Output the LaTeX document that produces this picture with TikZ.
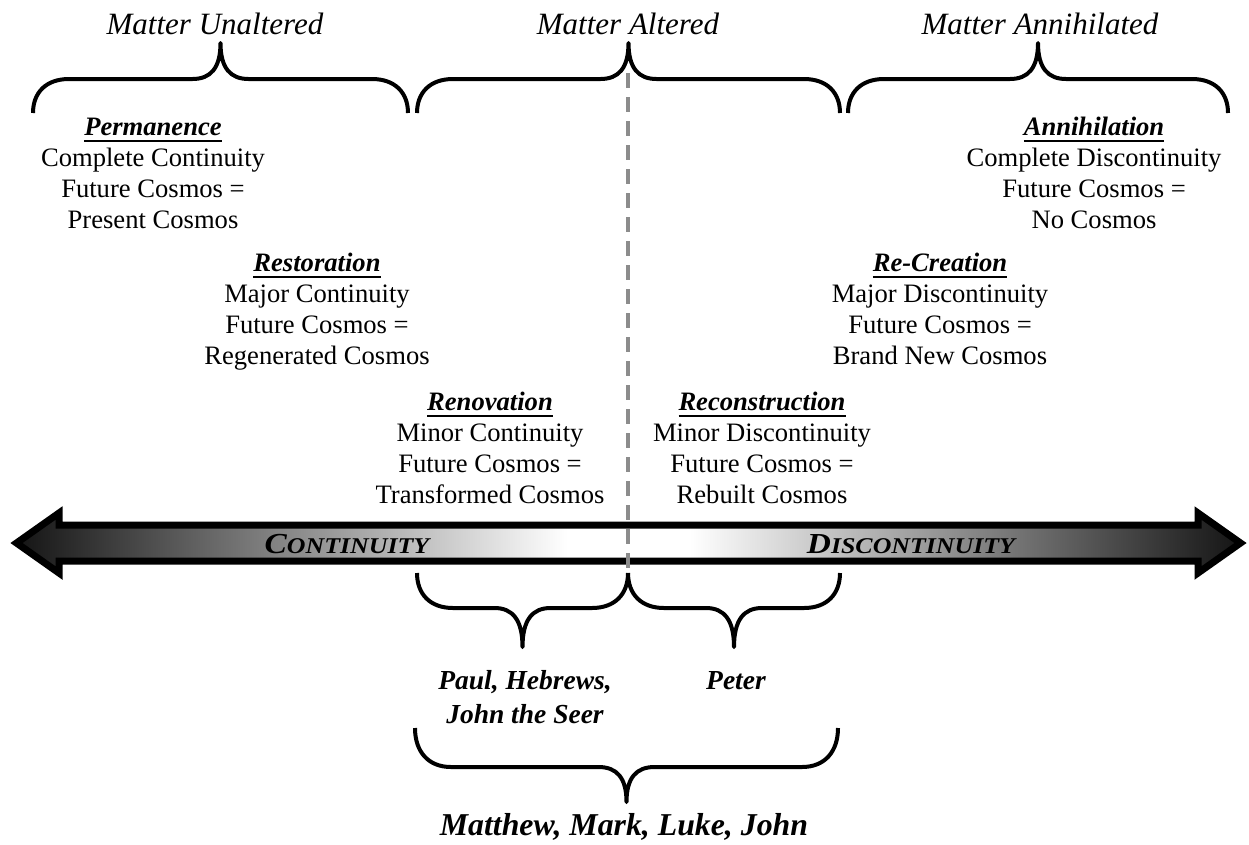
\documentclass[tikz,border=0pt]{standalone}
\usepackage{fontspec}
\setmainfont{Liberation Serif}
\usepackage{graphicx}

% heading word: bold italic with a 2pt rule under it
\newcommand\headword[1]{\setbox0=\hbox{\bfseries\itshape #1}\leavevmode\rlap{\vrule height -5pt depth 7pt width \wd0}\box0}
% imitation small capitals for the bar labels, slightly widened
\newcommand\fakesc[2]{\scalebox{1.15}[1]{{\fontsize{29}{29}\selectfont #1}{\fontsize{22.5}{22.5}\selectfont #2}}}

% curly brace: x1, x2, y of the ends, y of the long strokes, y of the cusp
\newcommand\curlybrace[5]{%
  \pgfmathsetmacro\bmid{(#1+#2)/2}%
  \pgfmathsetmacro\dA{#4-#3}%
  \pgfmathsetmacro\dB{#5-#4}%
  \draw[bracestroke] ({#1},{#3}) .. controls ({#1},{#3+0.6*(\dA)}) and ({#1+13},{#4}) .. ({#1+36},{#4})
     -- ({\bmid-28},{#4}) .. controls ({\bmid-10},{#4}) and ({\bmid},{#4+0.3*(\dB)}) .. ({\bmid},{#5})
     .. controls ({\bmid},{#4+0.3*(\dB)}) and ({\bmid+10},{#4}) .. ({\bmid+28},{#4})
     -- ({#2-36},{#4}) .. controls ({#2-13},{#4}) and ({#2},{#3+0.6*(\dA)}) .. ({#2},{#3});
}

% dark at both ends, white in the middle (path box maps to 25bp..75bp)
\pgfdeclarehorizontalshading{barshade}{100bp}{color(0bp)=(black!92); color(25bp)=(black!92); color(47.5bp)=(white); color(52.5bp)=(white); color(75bp)=(black!92); color(100bp)=(black!92)}

\begin{document}
\begin{tikzpicture}[x=1pt,y=-1pt,
  bracestroke/.style={line width=4pt, line join=round},
  title/.style={font=\fontsize{31}{31}\selectfont\itshape, anchor=base, inner sep=0pt},
  block/.style={font=\fontsize{26.6}{31}\selectfont, align=center, anchor=base, inner sep=0pt},
  who/.style={font=\fontsize{27.5}{34}\selectfont\bfseries\itshape, align=center, anchor=base, inner sep=0pt},
  barlabel/.style={font=\bfseries\itshape, anchor=base, inner sep=0pt},
  divider/.style={draw=black!45, line width=3.5pt, dash pattern=on 15pt off 9pt}]
\useasboundingbox (0,0) rectangle (1249,844);

% headings over the three ranges
\node[title] (unalt) at (215,34) {Matter Unaltered};
\node[title] (alt) at (628,34) {Matter Altered};
\node[title] (annih) at (1040,34) {Matter Annihilated};

\curlybrace{33}{408}{113}{79}{43}
\curlybrace{417}{840}{113}{79}{43}
\curlybrace{848}{1228}{113}{79}{43}

% the six views (node base = baseline of the last line)
\node[block] (perm) at (153,228) {\headword{Permanence}\\Complete Continuity\\Future Cosmos =\\Present Cosmos};
\node[block] (rest) at (317,364) {\headword{Restoration}\\Major Continuity\\Future Cosmos =\\Regenerated Cosmos};
\node[block] (renov) at (490,503) {\headword{Renovation}\\Minor Continuity\\Future Cosmos =\\Transformed Cosmos};
\node[block] (recon) at (762,503) {\headword{Reconstruction}\\Minor Discontinuity\\Future Cosmos =\\Rebuilt Cosmos};
\node[block] (recre) at (940,364) {\headword{Re-Creation}\\Major Discontinuity\\Future Cosmos =\\Brand New Cosmos};
\node[block] (annil) at (1094,228) {\headword{Annihilation}\\Complete Discontinuity\\Future Cosmos =\\No Cosmos};

% double-headed bar
\path[draw=black, line width=7pt, line join=miter, shading=barshade]
  (16.5,543) -- (59,513) -- (59,525) -- (1198,525) -- (1198,513) -- (1240.5,543)
  -- (1198,573) -- (1198,561) -- (59,561) -- (59,573) -- cycle;
\node[barlabel] (cont) at (347,553) {\fakesc{C}{ONTINUITY}};
\node[barlabel] (discont) at (911,553) {\fakesc{D}{ISCONTINUITY}};

% middle divider
\coordinate (divtop) at (628,73);
\coordinate (divbot) at (628,571);
\draw[divider] (divtop) -- (divbot);

% writers
\curlybrace{417}{628}{573}{608}{647}
\curlybrace{628}{840}{573}{608}{647}
\node[who] (paul) at (525,723) {Paul, Hebrews,\\John the Seer};
\node[who] (peter) at (736,689) {Peter};
\curlybrace{415}{838}{728}{767}{802}
\node[who, font=\fontsize{31.8}{31.8}\selectfont\bfseries\itshape] (gospels) at (624,835) {Matthew, Mark, Luke, John};
\end{tikzpicture}
\end{document}
